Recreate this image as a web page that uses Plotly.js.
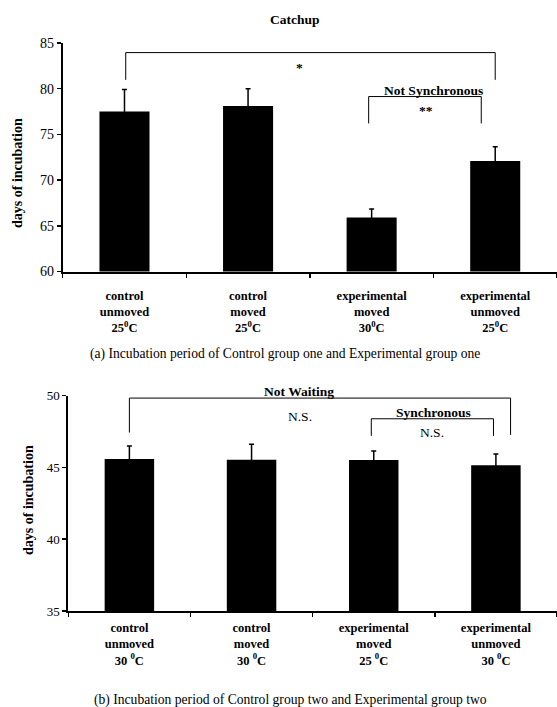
<!DOCTYPE html>
<html>
<head>
<meta charset="utf-8">
<script src="https://cdn.plot.ly/plotly-3.0.1.min.js"></script>
<style>html,body{margin:0;padding:0;background:#fff;}#chart{width:557px;height:707px;}</style>
</head>
<body>
<div id="chart"></div>
<script>
// ---- data ----
const categoriesA = ["control<br>unmoved<br>25<sup>0</sup>C", "control<br>moved<br>25<sup>0</sup>C", "experimental<br>moved<br>30<sup>0</sup>C", "experimental<br>unmoved<br>25<sup>0</sup>C"];
const valuesA = [77.5, 78.1, 65.9, 72.1];
const errorsA = [2.4, 1.9, 0.95, 1.55];

const categoriesB = ["control<br>unmoved<br>30 <sup>0</sup>C", "control<br>moved<br>30 <sup>0</sup>C", "experimental<br>moved<br>25 <sup>0</sup>C", "experimental<br>unmoved<br>30 <sup>0</sup>C"];
const valuesB = [45.58, 45.53, 45.51, 45.14];
const errorsB = [0.9, 1.07, 0.62, 0.79];

const titleA = "Catchup";
const captionA = "(a) Incubation period of Control group one and Experimental group one";
const captionB = "(b) Incubation period of Control group two and Experimental group two";
const yTitle = "days of incubation";

const SERIF = "Liberation Serif";

const traces = [
  {type: "bar", x: categoriesA, y: valuesA, xaxis: "x", yaxis: "y",
   marker: {color: "#000"},
   error_y: {type: "data", array: errorsA, symmetric: true, color: "#000", thickness: 1.5, width: 2.5}},
  {type: "bar", x: categoriesB, y: valuesB, xaxis: "x2", yaxis: "y2",
   marker: {color: "#000"},
   error_y: {type: "data", array: errorsB, symmetric: true, color: "#000", thickness: 1.5, width: 2.5}}
];

const xCommon = {
  type: "category", showline: true, linecolor: "#000", linewidth: 2,
  ticks: "outside", tickson: "boundaries", ticklen: 4, tickwidth: 1.5, tickcolor: "#000",
  showgrid: false, zeroline: false, fixedrange: true,
  tickfont: {family: SERIF, size: 12.5, color: "#000", weight: "bold"}
};
const yCommon = {
  showline: true, linecolor: "#000", linewidth: 2,
  ticks: "outside", ticklen: 4, tickwidth: 1.5, tickcolor: "#000",
  showgrid: false, zeroline: false, fixedrange: true
};

function bracket(xr, yr, x0, x1, ytop, yl, yr2) {
  const line = {color: "#000", width: 1};
  return [
    {type: "line", xref: xr, yref: yr, x0: x0, x1: x1, y0: ytop, y1: ytop, line: line},
    {type: "line", xref: xr, yref: yr, x0: x0, x1: x0, y0: ytop, y1: yl, line: line},
    {type: "line", xref: xr, yref: yr, x0: x1, x1: x1, y0: ytop, y1: yr2, line: line}
  ];
}

const shapes = [].concat(
  bracket("x", "y", 0.01, 3, 83.95, 80.97, 80.97),
  bracket("x", "y", 1.976, 2.887, 79.14, 76.2, 76.2),
  bracket("x2", "y2", 0, 3.12, 49.82, 47.42, 47.26),
  bracket("x2", "y2", 1.98, 2.98, 48.38, 47.19, 47.19)
);

const bold = {family: SERIF, size: 13.5, color: "#000", weight: "bold"};
const reg = {family: SERIF, size: 13.5, color: "#000"};
const ytf = {family: SERIF, size: 14, color: "#000", weight: "bold"};
const capf = {family: SERIF, size: 13.6, color: "#000"};

const annotations = [
  {xref: "paper", yref: "paper", x: 294.9/557, y: 1 - 19/707, text: titleA, showarrow: false, font: bold, xanchor: "center", yanchor: "middle"},
  {xref: "paper", yref: "paper", x: 17/557, y: 1 - 173/707, text: yTitle, textangle: -90, showarrow: false, font: ytf, xanchor: "center", yanchor: "middle"},
  {xref: "x", yref: "y", x: 1.42, y: 82.3, text: "*", showarrow: false, font: bold},
  {xref: "x", yref: "y", x: 2.5, y: 79.14, text: "Not Synchronous", showarrow: false, font: bold, yanchor: "bottom", yshift: -3},
  {xref: "x", yref: "y", x: 2.437, y: 77.65, text: "**", showarrow: false, font: bold},
  {xref: "paper", yref: "paper", x: 285/557, y: 1 - 354/707, text: captionA, showarrow: false, font: capf, xanchor: "center", yanchor: "middle"},
  {xref: "paper", yref: "paper", x: 28/557, y: 1 - 500/707, text: yTitle, textangle: -90, showarrow: false, font: ytf, xanchor: "center", yanchor: "middle"},
  {xref: "x2", yref: "y2", x: 1.39, y: 49.82, text: "Not Waiting", showarrow: false, font: bold, yanchor: "bottom", yshift: -3},
  {xref: "x2", yref: "y2", x: 1.40, y: 48.54, text: "N.S.", showarrow: false, font: reg},
  {xref: "x2", yref: "y2", x: 2.49, y: 48.38, text: "Synchronous", showarrow: false, font: bold, yanchor: "bottom", yshift: -3},
  {xref: "x2", yref: "y2", x: 2.48, y: 47.42, text: "N.S.", showarrow: false, font: reg},
  {xref: "paper", yref: "paper", x: 290.4/557, y: 1 - 700/707, text: captionB, showarrow: false, font: capf, xanchor: "center", yanchor: "middle"}
];

const layout = {
  width: 557, height: 707,
  margin: {l: 0, r: 0, t: 0, b: 0},
  paper_bgcolor: "#fff", plot_bgcolor: "#fff",
  showlegend: false, bargap: 0.595,
  font: {family: SERIF, color: "#000"},
  xaxis: Object.assign({}, xCommon, {domain: [62.7/557, 1], anchor: "y", ticklabelstandoff: 11}),
  yaxis: Object.assign({}, yCommon, {domain: [1 - 271.5/707, 1 - 43/707], range: [60, 85], dtick: 5, anchor: "x",
    tickfont: {family: SERIF, size: 14, color: "#000"}}),
  xaxis2: Object.assign({}, xCommon, {domain: [68.3/557, 1], anchor: "y2", ticklabelstandoff: 4}),
  yaxis2: Object.assign({}, yCommon, {domain: [1 - 611/707, 1 - 395.5/707], range: [35, 50], dtick: 5, anchor: "x2",
    tickfont: {family: SERIF, size: 13, color: "#000"}}),
  shapes: shapes,
  annotations: annotations
};

Plotly.newPlot("chart", traces, layout, {displayModeBar: false, staticPlot: true});
</script>
</body>
</html>
